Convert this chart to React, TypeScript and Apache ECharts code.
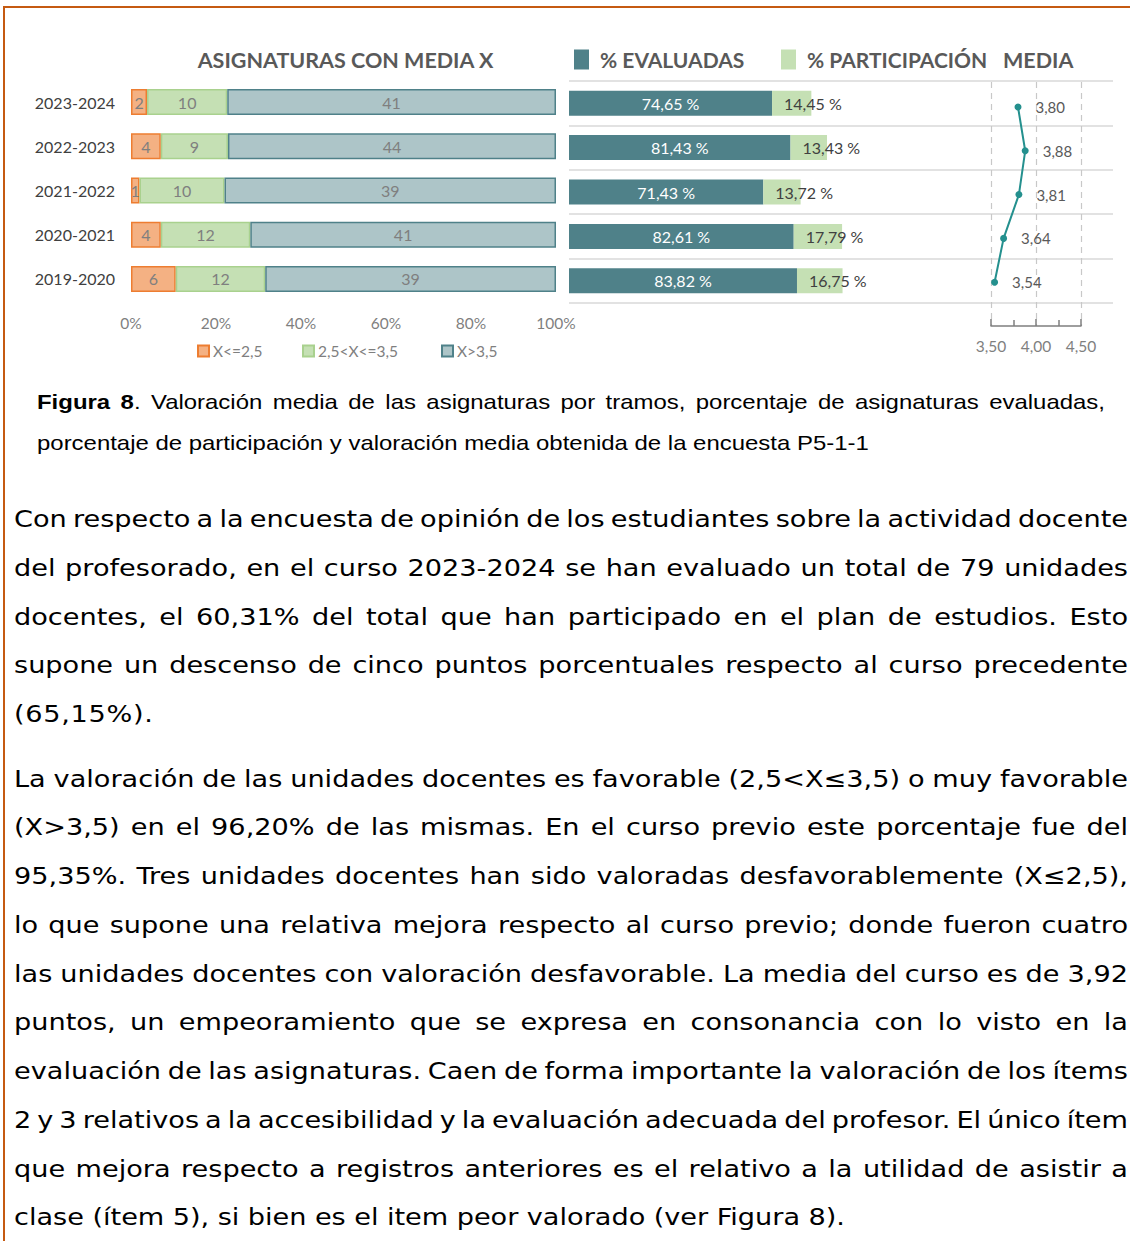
import React, { useEffect, useLayoutEffect, useRef } from "react";
import * as echarts from "echarts";

// ---------- DATA ----------
const YEARS = ["2023-2024", "2022-2023", "2021-2022", "2020-2021", "2019-2020"];
const LOW = [2, 4, 1, 4, 6]; // X<=2,5
const MID = [10, 9, 10, 12, 12]; // 2,5<X<=3,5
const HIGH = [41, 44, 39, 41, 39]; // X>3,5
const EVALUADAS = [74.65, 81.43, 71.43, 82.61, 83.82];
const PARTICIPACION = [14.45, 13.43, 13.72, 17.79, 16.75];
const MEDIA = [3.8, 3.88, 3.81, 3.64, 3.54];

const SEG_NAMES = ["X<=2,5", "2,5<X<=3,5", "X>3,5"];
const LEG_MID = ["% EVALUADAS", "% PARTICIPACIÓN"];

const CAPTION_L2 =
  "porcentaje de participación y valoración media obtenida de la encuesta P5-1-1";

const PARA1 = [
  "Con respecto a la encuesta de opinión de los estudiantes sobre la actividad docente",
  "del profesorado, en el curso 2023-2024 se han evaluado un total de 79 unidades",
  "docentes, el 60,31% del total que han participado en el plan de estudios. Esto",
  "supone un descenso de cinco puntos porcentuales respecto al curso precedente",
  "(65,15%).",
];
const PARA2 = [
  "La valoración de las unidades docentes es favorable (2,5<X≤3,5) o muy favorable",
  "(X>3,5) en el 96,20% de las mismas. En el curso previo este porcentaje fue del",
  "95,35%. Tres unidades docentes han sido valoradas desfavorablemente (X≤2,5),",
  "lo que supone una relativa mejora respecto al curso previo; donde fueron cuatro",
  "las unidades docentes con valoración desfavorable. La media del curso es de 3,92",
  "puntos, un empeoramiento que se expresa en consonancia con lo visto en la",
  "evaluación de las asignaturas. Caen de forma importante la valoración de los ítems",
  "2 y 3 relativos a la accesibilidad y la evaluación adecuada del profesor. El único ítem",
  "que mejora respecto a registros anteriores es el relativo a la utilidad de asistir a",
  "clase (ítem 5), si bien es el item peor valorado (ver Figura 8).",
];

const TOTALS = YEARS.map((_, i) => LOW[i] + MID[i] + HIGH[i]);
const toPct = (arr: number[]) => arr.map((v, i) => (v / TOTALS[i]) * 100);
const comma = (v: number) => v.toFixed(2).replace(".", ",");

const FONT = 'Lato, "Open Sans", sans-serif';

function buildOption() {
  const segColors = [
    { color: "#F4B183", borderColor: "#ED7D31" },
    { color: "#C5E0B4", borderColor: "#A9D18E" },
    { color: "#ADC5C8", borderColor: "#4F8189" },
  ];
  const segCounts = [LOW, MID, HIGH];
  const segLegendLeft = [197, 302, 441];

  return {
    animation: false,
    textStyle: { fontFamily: FONT },
    graphic: [
      {
        type: "text",
        x: 345.5,
        y: 60,
        style: {
          text: "ASIGNATURAS CON MEDIA X",
          align: "center",
          verticalAlign: "middle",
          textAlign: "center",
          textVerticalAlign: "middle",
          fill: "#595959",
          font: `bold 21.5px ${FONT}`,
        },
      },
      {
        type: "text",
        x: 1003,
        y: 60,
        style: {
          text: "MEDIA",
          align: "left",
          verticalAlign: "middle",
          textAlign: "left",
          textVerticalAlign: "middle",
          fill: "#595959",
          font: `bold 21.5px ${FONT}`,
        },
      },
    ],
    legend: [
      {
        data: [LEG_MID[0]],
        left: 574,
        top: 49,
        padding: 0,
        icon: "rect",
        itemWidth: 15,
        itemHeight: 20,
        selectedMode: false,
        textStyle: { fontSize: 21, fontWeight: "bold", color: "#595959", padding: [0, 0, 0, 6] },
      },
      {
        data: [LEG_MID[1]],
        left: 781,
        top: 49,
        padding: 0,
        icon: "rect",
        itemWidth: 15,
        itemHeight: 20,
        selectedMode: false,
        textStyle: { fontSize: 21, fontWeight: "bold", color: "#595959", padding: [0, 0, 0, 6] },
      },
      ...SEG_NAMES.map((n, k) => ({
        data: [n],
        left: segLegendLeft[k],
        top: 343,
        padding: 0,
        icon: "rect",
        itemWidth: 11,
        itemHeight: 11,
        selectedMode: false,
        textStyle: { fontSize: 15.5, color: "#7f7f7f", padding: [0, 0, 0, -1] },
      })),
    ],
    grid: [
      { left: 131, top: 80, width: 425, height: 221 },
      { left: 569, top: 81, width: 544, height: 222 },
      { left: 991, top: 82, width: 90, height: 244 },
    ],
    xAxis: [
      {
        gridIndex: 0,
        type: "value",
        min: 0,
        max: 100,
        interval: 20,
        axisLabel: { formatter: "{value}%", color: "#7f7f7f", fontSize: 15.5, margin: 14 },
        axisLine: { show: false },
        axisTick: { show: false },
        splitLine: { show: false },
      },
      { gridIndex: 1, type: "value", min: 0, max: 200, show: false },
      {
        gridIndex: 2,
        type: "value",
        position: "bottom",
        min: 3.5,
        max: 4.5,
        interval: 0.5,
        axisLabel: {
          formatter: (v: number) => comma(v),
          color: "#7f7f7f",
          fontSize: 15.5,
          margin: 12,
        },
        axisLine: { show: true, onZero: false, lineStyle: { color: "#7f7f7f", width: 1.5 } },
        axisTick: { show: true, inside: true, length: 7, lineStyle: { color: "#7f7f7f", width: 1.5 } },
        minorTick: { show: true, splitNumber: 2, length: 6, lineStyle: { color: "#7f7f7f", width: 1.5 } },
        splitLine: { show: true, lineStyle: { type: [6, 5], color: "#c8c8c8", width: 1.2 } },
      },
    ],
    yAxis: [
      {
        gridIndex: 0,
        type: "category",
        inverse: true,
        data: YEARS,
        axisLabel: { color: "#404040", fontSize: 16, margin: 16 },
        axisLine: { show: false },
        axisTick: { show: false },
        splitLine: { show: false },
      },
      {
        gridIndex: 1,
        type: "category",
        inverse: true,
        data: YEARS,
        axisLabel: { show: false },
        axisLine: { show: false },
        axisTick: { show: false },
        splitLine: { show: true, lineStyle: { color: "#d9d9d9", width: 1.5 } },
      },
      { gridIndex: 2, type: "value", inverse: true, min: -0.57, max: 5, show: false },
    ],
    series: [
      ...SEG_NAMES.map((n, k) => ({
        name: n,
        type: "bar",
        stack: "tramos",
        xAxisIndex: 0,
        yAxisIndex: 0,
        barWidth: 26,
        data: toPct(segCounts[k]),
        itemStyle: { ...segColors[k], borderWidth: 1.5 },
        label: {
          show: true,
          position: "inside",
          color: "#7f7f7f",
          fontSize: 16,
          formatter: (p: any) => String(segCounts[k][p.dataIndex]),
        },
      })),
      {
        name: LEG_MID[0],
        type: "bar",
        stack: "pct",
        xAxisIndex: 1,
        yAxisIndex: 1,
        barWidth: 25,
        data: EVALUADAS,
        itemStyle: { color: "#4F8189" },
        label: {
          show: true,
          position: "inside",
          color: "#ffffff",
          fontSize: 16,
          formatter: (p: any) => comma(p.value) + " %",
        },
      },
      {
        name: LEG_MID[1],
        type: "bar",
        stack: "pct",
        xAxisIndex: 1,
        yAxisIndex: 1,
        barWidth: 25,
        data: PARTICIPACION,
        itemStyle: { color: "#C5E0B4" },
        label: {
          show: true,
          position: "insideLeft",
          distance: 12,
          color: "#404040",
          fontSize: 16,
          formatter: (p: any) => comma(p.value) + " %",
        },
      },
      {
        name: "MEDIA",
        type: "line",
        xAxisIndex: 2,
        yAxisIndex: 2,
        data: MEDIA.map((m, i) => [m, i]),
        symbol: "circle",
        symbolSize: 7,
        itemStyle: { color: "#24908E" },
        lineStyle: { color: "#24908E", width: 2 },
        label: {
          show: true,
          position: "right",
          distance: 14,
          color: "#595959",
          fontSize: 15,
          formatter: (p: any) => comma(p.value[0]),
        },
      },
    ],
  };
}

// ---------- TEXT BLOCKS ----------
const BODY_S = 1.18;
const BODY_FONT = 23;
const BODY_LH = 48.75;
const BODY_LEFT = 14;
const BODY_W = 1114;

function Para({
  lines,
  top,
  lastWidth,
  lastSpacing,
}: {
  lines: string[];
  top: number;
  lastWidth?: number;
  lastSpacing?: number;
}) {
  const refs = useRef<(HTMLSpanElement | null)[]>([]);
  const w = BODY_W / BODY_S;

  useLayoutEffect(() => {
    const fit = () => {
      refs.current.forEach((el, i) => {
        if (!el) return;
        const last = i === lines.length - 1;
        const target = last ? lastWidth : BODY_W;
        if (target == null) return;
        el.style.wordSpacing = "0px";
        const natural = el.getBoundingClientRect().width / BODY_S;
        const spaces = (lines[i].match(/ /g) || []).length;
        if (spaces > 0) el.style.wordSpacing = `${(target / BODY_S - natural) / spaces}px`;
      });
    };
    fit();
    const f = (document as any).fonts;
    if (f && f.ready) f.ready.then(fit);
  }, []);

  return (
    <div
      style={{
        position: "absolute",
        left: BODY_LEFT,
        top,
        width: w,
        transform: `scaleX(${BODY_S})`,
        transformOrigin: "0 0",
        fontFamily: '"DejaVu Sans", Verdana, sans-serif',
        fontSize: BODY_FONT,
        lineHeight: `${BODY_LH}px`,
        color: "#000",
      }}
    >
      {lines.map((l, i) => {
        const last = i === lines.length - 1;
        return (
          <div key={i} style={{ height: BODY_LH, whiteSpace: "nowrap" }}>
            <span
              ref={(el) => {
                refs.current[i] = el;
              }}
              style={{
                display: "inline-block",
                whiteSpace: "nowrap",
                letterSpacing: last && lastSpacing ? lastSpacing : undefined,
              }}
            >
              {l}
            </span>
          </div>
        );
      })}
    </div>
  );
}

const CAP_S = 1.14;
const CAP_LEFT = 37;
const CAP_W = 1068;
const CAP_LH = 41;

function Caption() {
  const w = CAP_W / CAP_S;
  const base: React.CSSProperties = { whiteSpace: "nowrap", height: CAP_LH };
  return (
    <div
      style={{
        position: "absolute",
        left: CAP_LEFT,
        top: 380.5,
        width: w,
        transform: `scaleX(${CAP_S})`,
        transformOrigin: "0 0",
        fontFamily: '"Liberation Sans", Arial, sans-serif',
        fontSize: 21,
        lineHeight: `${CAP_LH}px`,
        color: "#000",
      }}
    >
      <div style={{ ...base, width: w, textAlign: "justify", textAlignLast: "justify" }}>
        <b>Figura 8</b>. Valoración media de las asignaturas por tramos, porcentaje de asignaturas evaluadas,
      </div>
      <div style={{ ...base, textAlign: "left" }}>{CAPTION_L2}</div>
    </div>
  );
}

export default function App() {
  const ref = useRef<HTMLDivElement>(null);
  useEffect(() => {
    if (!ref.current) return;
    const chart = echarts.init(ref.current, undefined, { renderer: "svg" });
    chart.setOption(buildOption() as any);
    return () => chart.dispose();
  }, []);

  return (
    <div
      style={{
        position: "absolute",
        left: 0,
        top: 0,
        width: 1130,
        height: 1241,
        overflow: "hidden",
        background: "#ffffff",
      }}
    >
      <div ref={ref} style={{ position: "absolute", left: 0, top: 0, width: 1130, height: 370 }} />
      <div style={{ position: "absolute", left: 3, top: 6, width: 1127, height: 2, background: "#C55A11" }} />
      <div style={{ position: "absolute", left: 3, top: 6, width: 2, height: 1235, background: "#C55A11" }} />
      <Caption />
      <Para lines={PARA1} top={495} lastSpacing={0.6} />
      <Para lines={PARA2} top={754.5} lastWidth={831} />
    </div>
  );
}
